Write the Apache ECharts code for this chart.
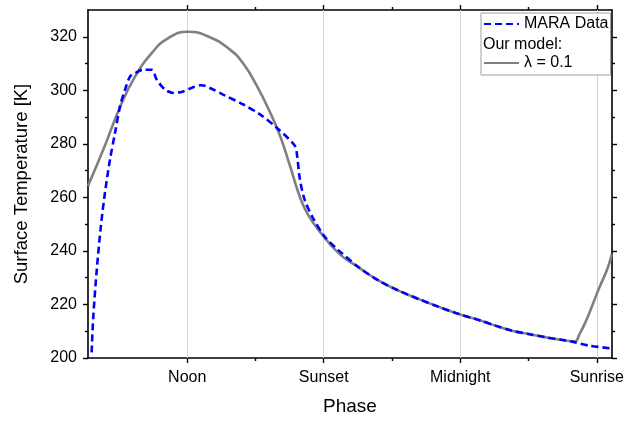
<!DOCTYPE html>
<html><head><meta charset="utf-8">
<script src="https://cdn.jsdelivr.net/npm/echarts@6/dist/echarts.min.js"></script>
<style>html,body{margin:0;padding:0;background:#fff}#c{width:639px;height:421px}</style>
</head><body><div id="c"></div>
<script>
// ---- data ----
const tickValues = [12, 18, 24, 30];
const tickLabels = ['Noon', 'Sunset', 'Midnight', 'Sunrise'];
const minorTickValues = [15, 21, 27];
const yTickValues = [200, 220, 240, 260, 280, 300, 320];
const yMinorTickValues = [210, 230, 250, 270, 290, 310];

const maraPhase = [7.80, 7.87, 8.02, 8.21, 8.39, 8.61, 8.83, 9.05, 9.27, 9.49, 9.70, 10.07, 10.44, 10.66, 11.02, 11.39, 11.82, 12.19, 12.63, 13.14, 13.58, 14.47, 15.20, 15.92, 16.73, 16.83, 16.95, 17.17, 17.54, 18.05, 18.63, 19.58, 20.46, 21.34, 22.21, 23.09, 23.98, 24.85, 25.58, 26.31, 27.05, 27.78, 28.51, 29.02, 29.68, 30.64];
const maraTemp = [202.1, 215.1, 232.4, 249.6, 262.0, 274.3, 284.2, 294.1, 300.3, 305.2, 306.4, 307.7, 307.7, 304.0, 300.3, 299.0, 299.6, 300.9, 301.9, 300.3, 298.4, 294.7, 291.0, 286.1, 279.3, 275.6, 266.9, 258.9, 252.1, 245.3, 240.4, 233.6, 228.7, 225.0, 221.9, 219.0, 216.3, 214.1, 212.0, 210.1, 208.9, 207.7, 206.7, 205.9, 204.6, 203.6];

const modelPhase = [7.64, 8.39, 9.05, 9.70, 10.44, 11.17, 12.04, 13.0, 13.88, 14.47, 15.05, 15.64, 16.08, 16.51, 16.87, 17.24, 17.83, 18.70, 19.58, 20.46, 21.34, 22.21, 23.09, 23.98, 24.85, 25.58, 26.31, 27.05, 27.78, 28.51, 29.02, 29.24, 29.53, 29.82, 30.11, 30.48, 30.66];
const modelTemp = [264.3, 279.5, 293.8, 305.0, 313.9, 319.5, 321.9, 319.8, 315.2, 309.9, 301.8, 291.8, 283.0, 272.0, 262.2, 254.6, 247.2, 238.8, 233.6, 228.7, 225.0, 221.9, 219.0, 216.3, 214.1, 212.0, 210.1, 208.9, 207.7, 206.7, 206.2, 208.9, 213.9, 220.0, 226.2, 233.6, 238.8];

// ---- chart ----
const FONT = 'Arial, "Liberation Sans", sans-serif';
const X_MIN = 7.64, X_MAX = 30.67, Y_MIN = 200, Y_MAX = 330;
const maraData = maraPhase.map((p, i) => [p, maraTemp[i]]);
const modelData = modelPhase.map((p, i) => [p, modelTemp[i]]);

function xAx(pos, ticks, len, lineShow, labelShow) {
  return {
    type: 'value', position: pos, min: X_MIN, max: X_MAX,
    axisLine: { show: lineShow, onZero: false, lineStyle: { color: '#000', width: 1.6 } },
    axisTick: { show: true, customValues: ticks, length: len, lineStyle: { color: '#000', width: 1.4 } },
    axisLabel: labelShow ? {
      show: true, customValues: tickValues, margin: 12, color: '#000', fontSize: 16, fontFamily: FONT,
      formatter: v => { const i = tickValues.indexOf(v); return i >= 0 ? tickLabels[i] : ''; }
    } : { show: false },
    splitLine: { show: false }
  };
}
function yAx(pos, ticks, len, lineShow, labelShow) {
  return {
    type: 'value', position: pos, min: Y_MIN, max: Y_MAX,
    axisLine: { show: lineShow, onZero: false, lineStyle: { color: '#000', width: 1.6 } },
    axisTick: { show: true, customValues: ticks, length: len, lineStyle: { color: '#000', width: 1.4 } },
    axisLabel: labelShow ? {
      show: true, customValues: yTickValues, margin: 11, color: '#000', fontSize: 16, fontFamily: FONT
    } : { show: false },
    splitLine: { show: false }
  };
}

const xAxes = [
  xAx('bottom', tickValues, 5, true, true),
  xAx('bottom', minorTickValues, 3, false, false),
  xAx('top', tickValues, 5, true, false),
  xAx('top', minorTickValues, 3, false, false)
];
Object.assign(xAxes[0], {
  name: 'Phase', nameLocation: 'middle', nameGap: 39,
  nameTextStyle: { color: '#000', fontSize: 19, fontFamily: FONT }
});
const yAxes = [
  yAx('left', yTickValues, 5, true, true),
  yAx('left', yMinorTickValues, 3, false, false),
  yAx('right', yTickValues, 5, true, false),
  yAx('right', yMinorTickValues, 3, false, false)
];
Object.assign(yAxes[0], {
  name: 'Surface Temperature [K]', nameLocation: 'middle', nameGap: 57,
  nameTextStyle: { color: '#000', fontSize: 18.5, fontFamily: FONT }
});

const chart = echarts.init(document.getElementById('c'), null, { renderer: 'canvas' });
chart.setOption({
  animation: false,
  backgroundColor: '#fff',
  grid: { left: 88, right: 27, top: 10, bottom: 60 },
  xAxis: xAxes,
  yAxis: yAxes,
  legend: {
    orient: 'vertical', left: 481, top: 13,
    padding: [3, 2, 4, 2], itemGap: 23, itemWidth: 35, itemHeight: 14,
    backgroundColor: '#fff', borderColor: '#a0a0a0', borderWidth: 1,
    itemStyle: { opacity: 0 },
    textStyle: { color: '#000', fontSize: 16, fontFamily: FONT },
    data: ['MARA Data', 'λ = 0.1']
  },
  graphic: [{
    type: 'text', left: 483, top: 37, z: 100,
    style: { text: 'Our model:', fill: '#000', fontSize: 16, fontFamily: FONT }
  }],
  series: [
    {
      name: 'λ = 0.1', type: 'line', xAxisIndex: 0, yAxisIndex: 0,
      data: modelData, showSymbol: false, symbol: 'none', smooth: 0.5, z: 2,
      lineStyle: { color: '#808080', width: 2.6 }, itemStyle: { color: '#808080' },
      markLine: {
        silent: true, symbol: 'none', z: 1, label: { show: false },
        lineStyle: { color: '#d3d3d3', width: 1, type: 'solid' },
        data: tickValues.map(v => ({ xAxis: v }))
      }
    },
    {
      name: 'MARA Data', type: 'line', xAxisIndex: 0, yAxisIndex: 0,
      data: maraData, showSymbol: false, symbol: 'none', smooth: 0.3, z: 3,
      lineStyle: { color: '#0000ff', width: 2.6, type: [7, 4] }, itemStyle: { color: '#0000ff' }
    }
  ]
});
</script>
</body></html>
